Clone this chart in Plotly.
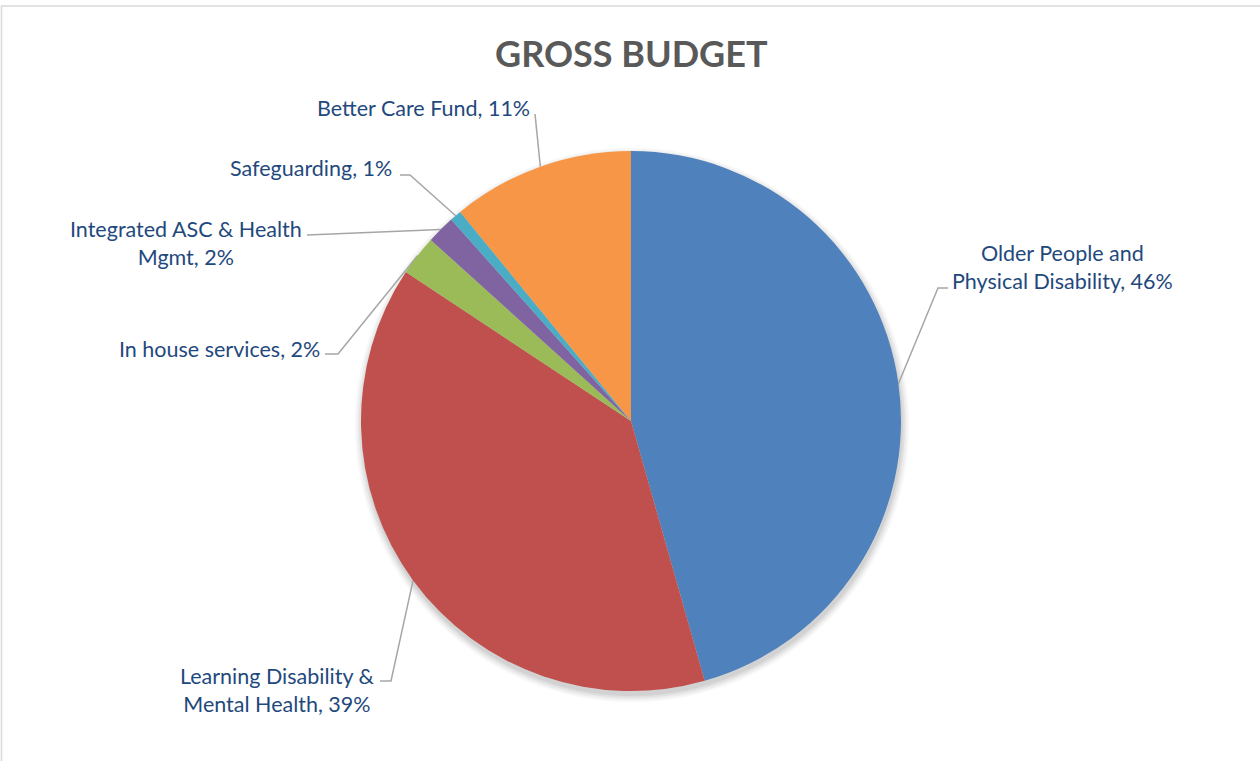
import math
import plotly.graph_objects as go

# Gross budget split by service area (share of total, %)
categories = [
    "Older People and Physical Disability",
    "Learning Disability & Mental Health",
    "In house services",
    "Integrated ASC & Health Mgmt",
    "Safeguarding",
    "Better Care Fund",
]
values = [45.6, 38.7, 2.4, 1.7, 0.7, 10.9]
colors = ["#4F81BD", "#C0504D", "#9BBB59", "#8064A2", "#4BACC6", "#F79646"]

# Label text lines (line breaks as displayed)
label_lines = [
    ["Older People and", "Physical Disability"],
    ["Learning Disability &", "Mental Health"],
    ["In house services"],
    ["Integrated ASC & Health", "Mgmt"],
    ["Safeguarding"],
    ["Better Care Fund"],
]

W, H = 1260, 761
CX, CY, R = 631, 421, 270          # pie centre / radius in pixels
TEXT_COLOR = "#1F497D"
LINE_COLOR = "#A6A6A6"
FONT = "Lato"

# label placement: (x, y, xanchor) and leader-line elbow points (pixels)
label_pos = [
    (1062, 267, "center"),
    (277, 690, "center"),
    (322, 349, "right"),
    (186, 243, "center"),
    (394, 168, "right"),
    (423, 108, "center"),
]
leader_pts = [
    [(948, 288), (938, 288)],
    [(380, 681), (391, 681)],
    [(325, 354), (338, 354)],
    [(307, 235)],
    [(400, 175), (410, 175)],
    [(535, 114)],
]

total = sum(values)
pcts = [round(v / total * 100) for v in values]

fig = go.Figure()

# soft drop shadow beneath the pie
shapes = []
for k, op in [(7, 0.03), (5, 0.04), (3, 0.05), (1, 0.06)]:
    shapes.append(dict(
        type="circle", xref="x", yref="y", layer="below",
        x0=CX - R - k + 1, x1=CX + R + k + 1,
        y0=CY - R - k + 4, y1=CY + R + k + 4,
        fillcolor=f"rgba(0,0,0,{op})", line=dict(width=0),
    ))
# chart-area border
shapes.append(dict(type="rect", xref="x", yref="y", layer="below",
                   x0=1.5, x1=W + 5, y0=6, y1=H + 5,
                   line=dict(color="#D9D9D9", width=1.5), fillcolor="rgba(0,0,0,0)"))

fig.add_trace(go.Pie(
    labels=categories, values=values, sort=False, direction="clockwise",
    rotation=0, textinfo="none", hoverinfo="label+percent",
    marker=dict(colors=colors, line=dict(width=0)),
    domain=dict(x=[(CX - R) / W, (CX + R) / W], y=[1 - (CY + R) / H, 1 - (CY - R) / H]),
    showlegend=False,
))

# leader lines: from each label to the slice edge at its mid-angle
annotations = []
cum = 0.0
for i, v in enumerate(values):
    mid = (cum + v / 2) / total * 2 * math.pi
    cum += v
    ex = CX + R * math.sin(mid)
    ey = CY - R * math.cos(mid)
    pts = leader_pts[i] + [(ex, ey)]
    fig.add_trace(go.Scatter(
        x=[p[0] for p in pts], y=[p[1] for p in pts], mode="lines",
        line=dict(color=LINE_COLOR, width=1.5), hoverinfo="skip", showlegend=False,
    ))
    lines = list(label_lines[i])
    lines[-1] = f"{lines[-1]}, {pcts[i]}%"
    lx, ly, xa = label_pos[i]
    annotations.append(dict(
        x=lx, y=ly, xref="x", yref="y", xanchor=xa, yanchor="middle",
        text="<br>".join(lines), showarrow=False, align="center",
        font=dict(family=FONT, size=21.5, color=TEXT_COLOR),
    ))

annotations.append(dict(
    x=CX, y=53, xref="x", yref="y", xanchor="center", yanchor="middle",
    text="<b>GROSS BUDGET</b>", showarrow=False,
    font=dict(family=FONT, size=36, color="#595959"),
))

fig.update_layout(
    width=W, height=H, margin=dict(l=0, r=0, t=0, b=0),
    paper_bgcolor="white", plot_bgcolor="white",
    xaxis=dict(range=[0, W], visible=False, fixedrange=True),
    yaxis=dict(range=[H, 0], visible=False, fixedrange=True),
    shapes=shapes, annotations=annotations,
)

fig.write_html("out.html")
